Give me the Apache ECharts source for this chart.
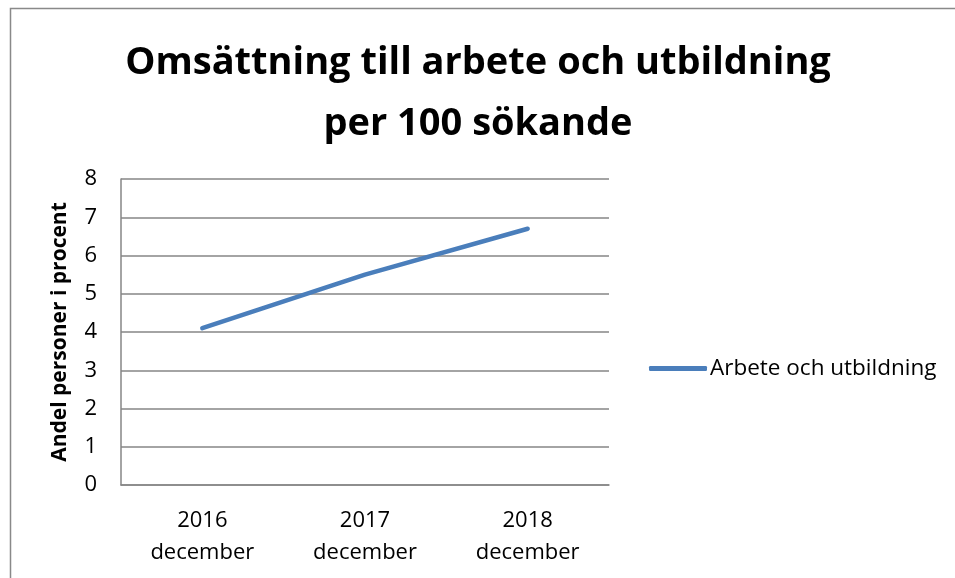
<!DOCTYPE html>
<html>
<head>
<meta charset="utf-8">
<script src="https://cdn.jsdelivr.net/npm/echarts@6/dist/echarts.min.js"></script>
<style>
  html, body { margin: 0; padding: 0; background: #fff; }
  #chart { width: 955px; height: 578px; }
</style>
</head>
<body>
<div id="chart"></div>
<script>
const categories = ['2016\ndecember', '2017\ndecember', '2018\ndecember'];
const seriesName = 'Arbete och utbildning';
const values = [4.1, 5.5, 6.7];
const titleText = 'Omsättning till arbete och utbildning\nper 100 sökande';
const yAxisName = 'Andel personer i procent';

const lineColor = '#4a7ebb';
const gridColor = '#868686';
const font = 'Open Sans';

const chart = echarts.init(document.getElementById('chart'));

chart.setOption({
    animation: false,
    backgroundColor: '#fff',
    title: {
        text: titleText,
        left: 473,
        textAlign: 'center',
        top: 28,
        textStyle: {
            fontFamily: font,
            fontWeight: 'bold',
            fontSize: 38,
            lineHeight: 61,
            color: '#000'
        }
    },
    legend: {
        left: 644,
        top: 352,
        itemWidth: 58,
        itemHeight: 5,
        itemGap: 0,
        icon: 'roundRect',
        data: [seriesName],
        textStyle: { fontFamily: font, fontSize: 22.5, color: '#000', padding: [0, 0, 0, -2] }
    },
    graphic: [{
        type: 'polyline',
        shape: { points: [[10.5, 578], [10.5, 8.5], [955, 8.5]] },
        style: { stroke: '#898989', lineWidth: 1.5, fill: null }
    }],
    grid: {
        left: 121,
        right: 346,
        top: 179,
        bottom: 93
    },
    xAxis: {
        type: 'category',
        data: categories,
        boundaryGap: true,
        axisLine: { lineStyle: { color: gridColor, width: 1.5 } },
        axisTick: { show: false },
        axisLabel: {
            fontFamily: font,
            fontSize: 22,
            color: '#000',
            lineHeight: 32,
            margin: 20
        }
    },
    yAxis: {
        type: 'value',
        min: 0,
        max: 8,
        interval: 1,
        name: yAxisName,
        nameLocation: 'middle',
        nameGap: 50,
        nameTextStyle: { fontFamily: font, fontWeight: 'bold', fontSize: 21, color: '#000' },
        axisLine: { show: true, lineStyle: { color: gridColor, width: 1.5 } },
        axisTick: { show: false },
        splitLine: { lineStyle: { color: gridColor, width: 1.5 } },
        axisLabel: { fontFamily: font, fontSize: 22, color: '#000', margin: 24 }
    },
    series: [{
        name: seriesName,
        type: 'line',
        data: values,
        symbol: 'none',
        lineStyle: { color: lineColor, width: 4.5, cap: 'round', join: 'round' },
        itemStyle: { color: lineColor }
    }]
});
</script>
</body>
</html>
